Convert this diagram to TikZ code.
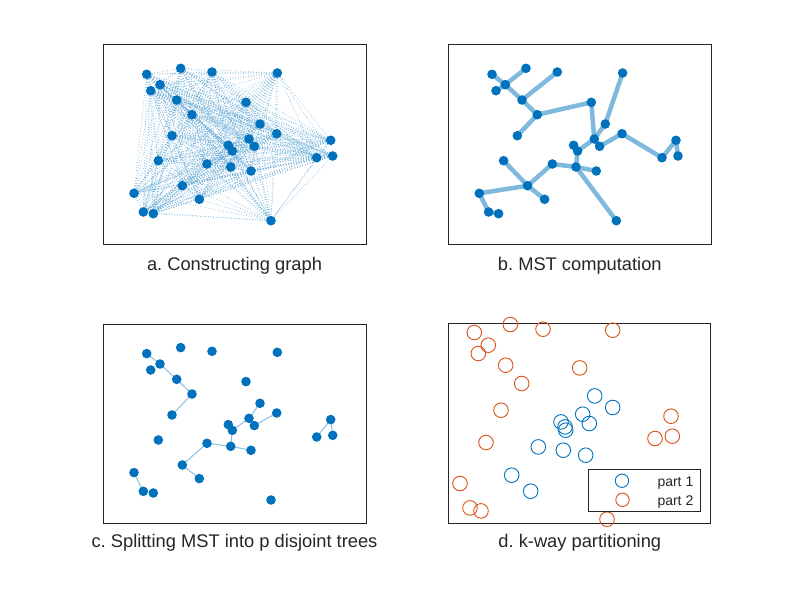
\documentclass[tikz,border=0pt]{standalone}
\usepackage{fontspec}
\setmainfont{Liberation Sans}
\frenchspacing
\definecolor{mblue}{HTML}{0072BD}
\definecolor{morange}{HTML}{D95319}
\definecolor{framegray}{HTML}{262626}
\newcommand{\ptsgraph}{43.7/29.6, 77.7/23.6, 109/27.3, 174.3/28.3, 57/40, 47.7/46, 73.7/55.3, 89/70, 143/57.6, 157/79.3, 173.7/89, 69/91, 146/94.3, 125.3/100.6, 129.3/106.3, 151.3/101.6, 227.7/95.6, 229.7/111.3, 213.7/113, 55.3/116, 104/119.3, 127.7/122.3, 148/126.3, 79.3/141, 31/148.6, 96.3/154.6, 40.3/167.3, 50.3/169, 168/176}
\newcommand{\ptsorange}{26/8.8, 62/0.8, 94.7/5.5, 164.4/6.5, 40/21.5, 30/29.8, 57.4/41.5, 131.4/44.2, 73.4/59.8, 52.7/86.5, 222.7/92.5, 224/112.5, 206.7/114.8, 37.7/118.8, 11.7/159.8, 21.7/184.2, 32.7/187.2, 158.7/195.5}
\newcommand{\ptsblue}{146.4/72.2, 164.4/83.8, 134.4/90.5, 112.7/98.2, 141/99.8, 116.7/103.2, 117.4/106.5, 90/123.2, 115/126.5, 137.4/131.5, 63.4/151.5, 82.4/167.5}
\tikzset{
	frame/.style={draw=framegray,line width=0.8pt},
	dot/.style={circle,fill=mblue,inner sep=0pt,minimum size=9.6pt},
	ring/.style={circle,draw,line width=0.9pt,inner sep=0pt,minimum size=14.6pt},
	full/.style={mblue!60,dotted,line width=0.6pt},
	mst/.style={mblue!50,line width=4.5pt,line cap=round},
	tree/.style={mblue!45,line width=1pt},
	caption/.style={anchor=base,text=framegray,font=\fontsize{18.3}{22}\selectfont},
}
\begin{document}
\begin{tikzpicture}[x=1pt,y=-1pt]
	\useasboundingbox[fill=white] (0,0) rectangle (785,589);
	\begin{scope}[shift={(103,44.7)}]
	    \draw[frame] (0,0) rectangle (263,199.5);
	    \foreach \x/\y [count=\i] in \ptsgraph \coordinate (a\i) at (\x,\y);
	    \foreach \i in {1,...,28}{
	        \pgfmathtruncatemacro\nxt{\i+1}
	        \foreach \j in {\nxt,...,29} \draw[full] (a\i) -- (a\j);
	    }
	    \foreach \i in {1,...,29} \node[dot] (da\i) at (a\i) {};
	\end{scope}
	\begin{scope}[shift={(448.3,44.7)}]
	    \draw[frame] (0,0) rectangle (263,199.5);
	    \foreach \x/\y [count=\i] in \ptsgraph \coordinate (b\i) at (\x,\y);
	    \foreach \u/\v in {1/5,2/5,6/5,5/7,3/7,7/8,8/9,8/12,9/13,4/10,10/13,13/15,13/16,16/11,11/19,19/17,17/18,14/15,15/22,22/21,22/23,22/29,21/24,24/20,24/26,24/25,25/27,27/28}
	        \draw[mst] (b\u) -- (b\v);
	    \foreach \i in {1,...,29} \node[dot] (db\i) at (b\i) {};
	\end{scope}
	\begin{scope}[shift={(103,324)}]
	    \draw[frame] (0,0) rectangle (263,199.5);
	    \foreach \x/\y [count=\i] in \ptsgraph \coordinate (c\i) at (\x,\y);
	    \foreach \u/\v in {1/5,5/7,7/8,8/12,10/13,13/15,13/16,16/11,14/15,15/22,22/21,22/23,21/24,24/26,17/19,17/18,25/27}
	        \draw[tree] (c\u) -- (c\v);
	    \foreach \i in {1,...,29} \node[dot] (dc\i) at (c\i) {};
	\end{scope}
	\begin{scope}[shift={(448.3,323.7)}]
	    \draw[frame] (0,0) rectangle (262,199.5);
	    \foreach \x/\y [count=\i] in \ptsorange \node[ring,morange] (o\i) at (\x,\y) {};
	    \foreach \x/\y [count=\i] in \ptsblue \node[ring,mblue] (p\i) at (\x,\y) {};
	\end{scope}
	\node[draw=framegray,fill=white,line width=0.6pt,inner sep=0pt,minimum width=111.7pt,minimum height=42pt] (legend) at (644.2,490.3) {};
	\node[ring,mblue,minimum size=13.4pt] (lblue) at (622,480.7) {};
	\node[ring,morange,minimum size=13.4pt] (lorange) at (622.5,499.8) {};
	\node[anchor=base west,inner sep=0pt,text=framegray,font=\fontsize{14}{16}\selectfont] (lt1) at (657.3,486) {part 1};
	\node[anchor=base west,inner sep=0pt,text=framegray,font=\fontsize{14}{16}\selectfont] (lt2) at (657.3,505) {part 2};
	\node[caption] (capa) at (234.5,270) {a. Constructing graph};
	\node[caption] (capb) at (579.8,270) {b. MST computation};
	\node[caption] (capc) at (234.5,547) {c. Splitting MST into p disjoint trees};
	\node[caption] (capd) at (579.8,547) {d. k-way partitioning};
\end{tikzpicture}
\end{document}
